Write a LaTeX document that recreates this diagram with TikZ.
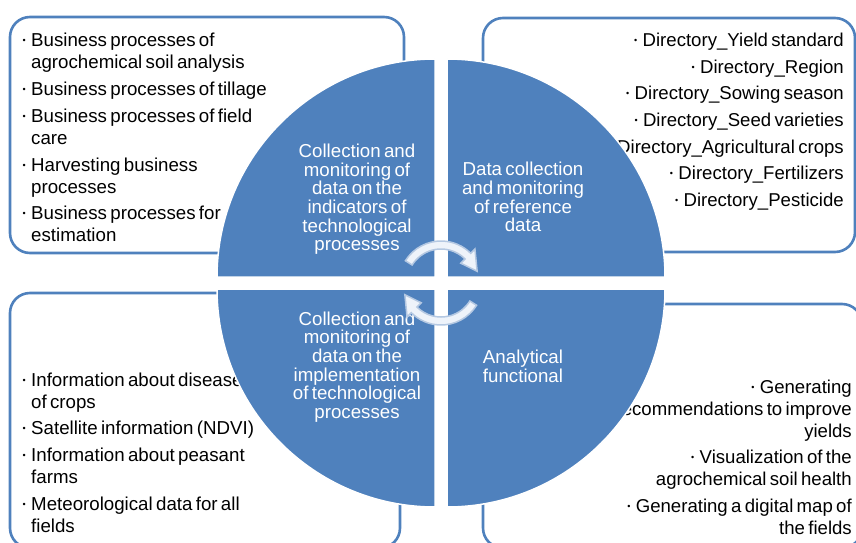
\documentclass[tikz,border=0pt]{standalone}
\usepackage{fontspec}
\setmainfont{Liberation Sans}
\usetikzlibrary{calc}
\definecolor{accent}{HTML}{4F81BD}
\definecolor{arrfill}{HTML}{EEF3FA}
\definecolor{arrline}{HTML}{B4C8E2}
\newcommand\bul{\makebox[9pt][l]{\hspace{0.5pt}\raisebox{3pt}{\fontsize{9}{9}\selectfont •}}}
\newcommand\fitm{\noindent\bul}
\newcommand\itm{\par\noindent\bul}
\newcommand\cont{\break\hspace*{9pt}}
\begin{document}
\begin{tikzpicture}[x=1pt,y=-1pt,
  box/.style={draw=accent, line width=2.6pt, fill=white, rounded corners=20pt},
  quarter/.style={fill=accent, draw=white, line width=1.5pt},
  listl/.style={inner sep=0pt, text width=#1, align=left, anchor=base west,
    execute at begin node={\fontsize{18.7}{22}\selectfont\setlength\parskip{4.8pt}}},
  listr/.style={inner sep=0pt, text width=#1, align=right, anchor=base east,
    execute at begin node={\fontsize{18.6}{22}\selectfont\setlength\parskip{4.6pt}}},
  ctext/.style={inner sep=0pt, text width=170pt, align=center, text=white, anchor=base,
    execute at begin node={\fontsize{18.7}{18.7}\selectfont}},
  cyc/.style={fill=arrfill, draw=arrline, line width=1.5pt}
]
\useasboundingbox (0,0) rectangle (856,543);
\clip (0,0) rectangle (856,543);
% boxes
\draw[box] (10,17) rectangle (404,253);
\draw[box] (483,18) rectangle (855,252);
\draw[box] (10,293) rectangle (400,548);
\draw[box] (483,304) rectangle (862,548);
% lists
\node[listl=360pt] (tl) at (22,46.7) {\fitm Business processes of\cont agrochemical soil analysis\itm Business processes of tillage\itm Business processes of field\cont care\itm Harvesting business\cont processes\itm Business processes for\cont estimation\par};
\node[listr=330pt] (tr) at (844,46.7) {\fitm Directory\_Yield standard\itm Directory\_Region\itm Directory\_Sowing season\itm Directory\_Seed varieties\itm Directory\_Agricultural crops\itm Directory\_Fertilizers\itm Directory\_Pesticide\par};
\node[listl=360pt] (bl) at (22,386) {\fitm Information about diseases\cont of crops\itm Satellite information (NDVI)\itm Information about peasant\cont farms\itm Meteorological data for all\cont fields\par};
\node[listr=330pt] (br) at (852,393.3) {\fitm Generating\break recommendations to improve\break yields\itm Visualization of the\break agrochemical soil health\itm Generating a digital map of\break the fields\par};
% quarters
\filldraw[quarter] (217,277) arc[start angle=180, end angle=270, radius=218] -- (435,277) -- cycle;
\filldraw[quarter] (447,59) arc[start angle=270, end angle=360, radius=218] -- (447,277) -- cycle;
\filldraw[quarter] (665,289) arc[start angle=0, end angle=90, radius=218] -- (447,289) -- cycle;
\filldraw[quarter] (435,507) arc[start angle=90, end angle=180, radius=218] -- (435,289) -- cycle;
% circle texts
\node[ctext] (q1) at (357,157.3) {Collection and\\monitoring of\\data on the\\indicators of\\technological\\processes};
\node[ctext] (q2) at (523,175.7) {Data collection\\and monitoring\\of reference\\data};
\node[ctext] (q3) at (357,325) {Collection and\\monitoring of\\data on the\\implementation\\of technological\\processes};
\node[ctext] (q4) at (523,363.3) {Analytical\\functional};
% cycle arrows
\coordinate (c) at (441,283);
\filldraw[cyc] ($(c)+(-148:42)$) arc[start angle=-148, end angle=-45, radius=42] -- ($(c)+(-45:48)$) -- ($(c)+(-18:38)$) -- ($(c)+(-45:28)$) -- ($(c)+(-45:34)$) arc[start angle=-45, end angle=-148, radius=34] -- cycle;
\filldraw[cyc] ($(c)+(32:42)$) arc[start angle=32, end angle=135, radius=42] -- ($(c)+(135:48)$) -- ($(c)+(162:38)$) -- ($(c)+(135:28)$) -- ($(c)+(135:34)$) arc[start angle=135, end angle=32, radius=34] -- cycle;
\end{tikzpicture}
\end{document}
